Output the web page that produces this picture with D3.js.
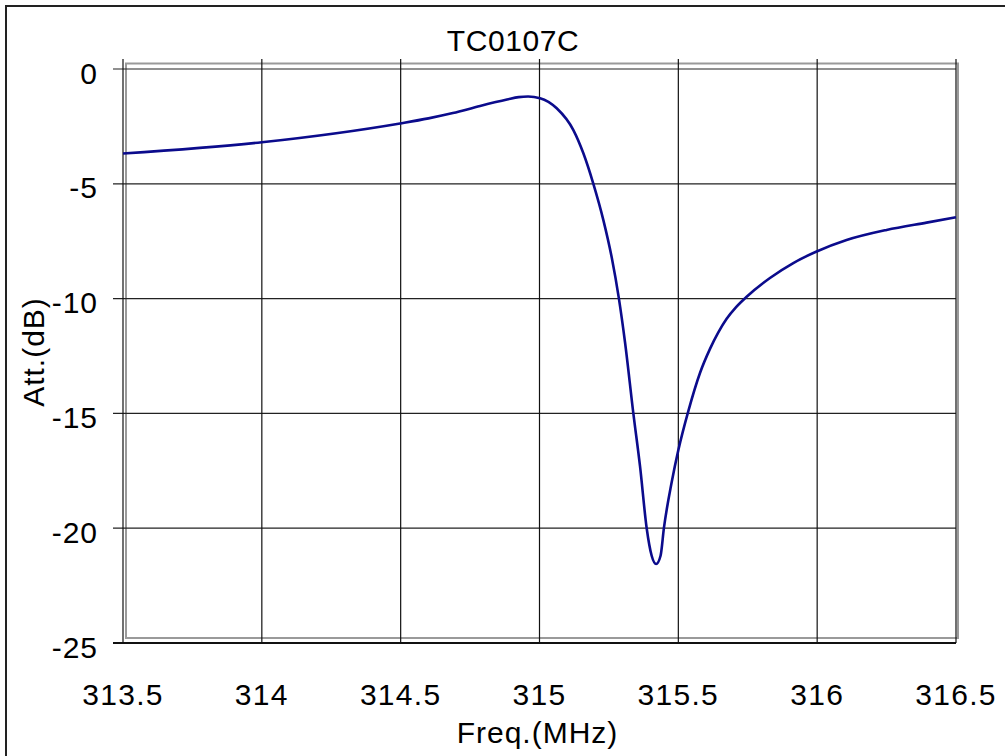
<!DOCTYPE html>
<html>
<head>
<meta charset="utf-8">
<script src="https://cdn.jsdelivr.net/npm/d3@7"></script>
<style>
  body { margin: 0; background: #fff; }
  text { font-family: "Liberation Sans", Arial, sans-serif; fill: #000; }
</style>
</head>
<body>
<svg width="1005" height="756"></svg>
<script>
// data
var freq = [313.5, 314.0, 314.498, 314.6, 314.688, 314.786, 314.883, 314.925, 314.959, 315.002,
            315.062, 315.122, 315.158, 315.194, 315.230, 315.260, 315.286, 315.308, 315.338,
            315.362, 315.386, 315.404, 315.420, 315.436, 315.448, 315.476, 315.500, 315.536,
            315.578, 315.614, 315.644, 315.674, 315.708, 315.744, 315.830, 315.914, 315.996,
            316.106, 316.250, 316.394, 316.5];
var att = [-3.68, -3.19, -2.37, -2.15, -1.92, -1.61, -1.33, -1.225, -1.20, -1.27,
           -1.71, -2.66, -3.67, -5.0, -6.58, -8.2, -10.0, -11.9, -15.0,
           -17.3, -20.0, -21.2, -21.56, -21.2, -20.0, -18.0, -16.6, -14.9,
           -13.24, -12.19, -11.47, -10.88, -10.37, -9.94, -9.10, -8.45, -7.96,
           -7.45, -7.01, -6.69, -6.46];
var xTicks = [313.5, 314, 314.5, 315, 315.5, 316, 316.5];
var xTickLabels = ['313.5', '314', '314.5', '315', '315.5', '316', '316.5'];
var yTicks = [0, -5, -10, -15, -20, -25];
var title = 'TC0107C';
var xTitle = 'Freq.(MHz)';
var yTitle = 'Att.(dB)';

var svg = d3.select('svg');

var x = d3.scaleLinear().domain([313.5, 316.5]).range([123, 956]);
var y = d3.scaleLinear().domain([-25, 0]).range([643, 69]);

// outer frame
svg.append('rect')
    .attr('x', 6).attr('y', 6)
    .attr('width', 1010).attr('height', 760)
    .attr('fill', 'none')
    .attr('stroke', '#222')
    .attr('stroke-width', 2);

// gray shadow box
svg.append('rect')
    .attr('x', 126).attr('y', 63.5)
    .attr('width', 832).attr('height', 574.5)
    .attr('fill', 'none')
    .attr('stroke', '#9a9a9a')
    .attr('stroke-width', 2);

// horizontal grid + ticks
svg.selectAll('.hgrid')
    .data(yTicks)
    .enter()
    .append('line')
    .attr('class', 'hgrid')
    .attr('x1', 113)
    .attr('x2', x(316.5))
    .attr('y1', function(d){ return y(d); })
    .attr('y2', function(d){ return y(d); })
    .attr('stroke', function(d){ return d === -25 ? '#111' : '#222'; })
    .attr('stroke-width', function(d){ return d === -25 ? 2 : 1.2; });

// vertical grid
svg.selectAll('.vgrid')
    .data(xTicks)
    .enter()
    .append('line')
    .attr('class', 'vgrid')
    .attr('x1', function(d){ return x(d); })
    .attr('x2', function(d){ return x(d); })
    .attr('y1', 59)
    .attr('y2', y(-25))
    .attr('stroke', '#111')
    .attr('stroke-width', 1.2);

// y tick labels
svg.selectAll('.ylab')
    .data(yTicks)
    .enter()
    .append('text')
    .attr('class', 'ylab')
    .attr('x', 98)
    .attr('y', function(d){ return y(d) + 14.5; })
    .attr('text-anchor', 'end')
    .attr('font-size', 30)
    .attr('letter-spacing', 1)
    .text(function(d){ return d; });

// x tick labels
svg.selectAll('.xlab')
    .data(xTicks)
    .enter()
    .append('text')
    .attr('class', 'xlab')
    .attr('x', function(d){ return x(d); })
    .attr('y', 705)
    .attr('text-anchor', 'middle')
    .attr('font-size', 30)
    .attr('letter-spacing', 1.3)
    .text(function(d, i){ return xTickLabels[i]; });

// curve
var line = d3.line()
    .x(function(d, i){ return x(freq[i]); })
    .y(function(d){ return y(d); })
    .curve(d3.curveMonotoneX);

svg.append('path')
    .datum(att)
    .attr('d', line)
    .attr('fill', 'none')
    .attr('stroke', '#0b0b8c')
    .attr('stroke-width', 2.6);

// titles
svg.append('text')
    .attr('x', 513).attr('y', 51)
    .attr('text-anchor', 'middle')
    .attr('font-size', 30)
    .attr('letter-spacing', 0.6)
    .text(title);

svg.append('text')
    .attr('x', 537.5).attr('y', 743)
    .attr('text-anchor', 'middle')
    .attr('font-size', 30)
    .attr('letter-spacing', 1)
    .text(xTitle);

svg.append('text')
    .attr('transform', 'translate(44,352) rotate(-90)')
    .attr('text-anchor', 'middle')
    .attr('font-size', 30)
    .attr('letter-spacing', 1)
    .text(yTitle);
</script>
</body>
</html>
